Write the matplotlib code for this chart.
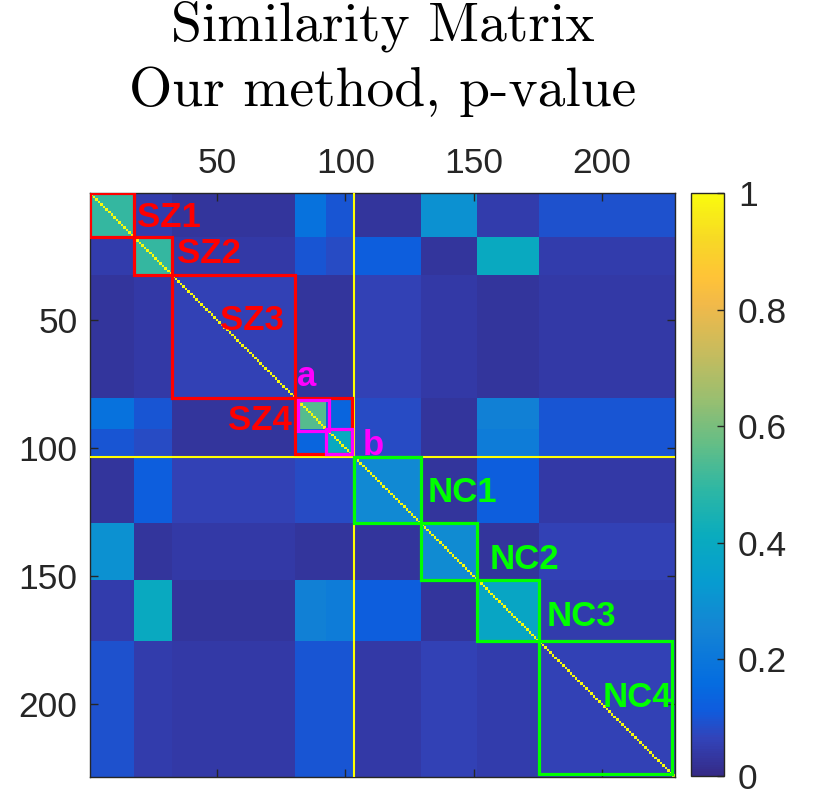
"""
Similarity matrix (p-value) with SZ / NC group boxes, parula colormap.
"""

import matplotlib
matplotlib.use("Agg")
import matplotlib.pyplot as plt
import numpy as np

from matplotlib.colors import LinearSegmentedColormap
from matplotlib.patches import Rectangle


plt.rcParams["font.family"] = ["Liberation Sans", "DejaVu Sans"]
TXT = "#262626"

# MATLAB parula, a subset of the 64-entry table
PARULA = [
    (0 / 63, (0.2081, 0.1663, 0.5292)),
    (4 / 63, (0.1959, 0.2645, 0.7279)),
    (7 / 63, (0.0591, 0.3598, 0.8683)),
    (10 / 63, (0.0165, 0.4266, 0.8786)),
    (16 / 63, (0.0793, 0.5200, 0.8312)),
    (21 / 63, (0.0265, 0.6137, 0.8135)),
    (26 / 63, (0.0384, 0.6743, 0.7436)),
    (31 / 63, (0.1801, 0.7177, 0.6424)),
    (36 / 63, (0.3953, 0.7459, 0.5244)),
    (41 / 63, (0.6099, 0.7473, 0.4337)),
    (46 / 63, (0.7858, 0.7356, 0.3633)),
    (51 / 63, (0.9450, 0.7261, 0.2886)),
    (54 / 63, (0.9990, 0.7653, 0.2164)),
    (58 / 63, (0.9697, 0.8481, 0.1475)),
    (63 / 63, (0.9763, 0.9831, 0.0538)),
]
CMAP = LinearSegmentedColormap.from_list("parula", PARULA, N=256)

# subjects, 1-based
N_SUBJ = 228
N_SZ = 103

# groups (first / last subject)
groups = ["SZ1", "SZ2", "SZ3", "SZ4a", "SZ4b", "NC1", "NC2", "NC3", "NC4"]
group_first = [1, 18, 33, 81, 93, 104, 130, 152, 176]
group_last = [17, 32, 80, 92, 103, 129, 151, 175, 228]

# estimated mean similarity between groups (rows / cols in the order above)
block_sim = [
    # SZ1   SZ2   SZ3   SZ4a  SZ4b  NC1   NC2   NC3   NC4
    [0.50, 0.05, 0.03, 0.18, 0.10, 0.03, 0.30, 0.05, 0.09],  # SZ1
    [0.05, 0.50, 0.04, 0.10, 0.08, 0.12, 0.03, 0.40, 0.05],  # SZ2
    [0.03, 0.04, 0.06, 0.03, 0.03, 0.06, 0.04, 0.03, 0.04],  # SZ3
    [0.18, 0.10, 0.03, 0.55, 0.14, 0.08, 0.03, 0.24, 0.10],  # SZ4a
    [0.10, 0.08, 0.03, 0.14, 0.40, 0.08, 0.03, 0.22, 0.10],  # SZ4b
    [0.03, 0.12, 0.06, 0.08, 0.08, 0.27, 0.03, 0.12, 0.04],  # NC1
    [0.30, 0.03, 0.04, 0.03, 0.03, 0.03, 0.28, 0.03, 0.06],  # NC2
    [0.05, 0.40, 0.03, 0.24, 0.22, 0.12, 0.03, 0.38, 0.05],  # NC3
    [0.09, 0.05, 0.04, 0.10, 0.10, 0.04, 0.06, 0.05, 0.06],  # NC4
]
self_sim = 1.0

# annotated boxes (first / last subject)
box_names = ["SZ1", "SZ2", "SZ3", "SZ4", "a", "b", "NC1", "NC2", "NC3", "NC4"]
box_first = [1, 18, 33, 81, 82, 93, 104, 130, 152, 176]
box_last = [17, 32, 80, 102, 93, 102, 129, 151, 175, 227]
box_colors = ["#ff0000"] * 4 + ["#ff00ff"] * 2 + ["#00ff00"] * 4


# build the matrix from the group blocks
S = np.zeros((N_SUBJ, N_SUBJ))
for i, (r0, r1) in enumerate(zip(group_first, group_last)):
    for j, (c0, c1) in enumerate(zip(group_first, group_last)):
        S[r0 - 1:r1, c0 - 1:c1] = block_sim[i][j]
np.fill_diagonal(S, self_sim)


fig = plt.figure(figsize=(8.25, 7.95), dpi=100)
fig.patch.set_facecolor("white")

ax = fig.add_axes([90 / 825, 1 - 777 / 795, 585 / 825, 584 / 795])
im = ax.imshow(S, cmap=CMAP, vmin=0, vmax=1, aspect="auto",
               interpolation="nearest",
               extent=(0.5, N_SUBJ + 0.5, N_SUBJ + 0.5, 0.5))

# SZ / NC split
ax.axvline(N_SZ + 0.5, color="#ffff00", lw=1.5, zorder=3)
ax.axhline(N_SZ + 0.5, color="#ffff00", lw=1.5, zorder=3)

for f, l, c in zip(box_first, box_last, box_colors):
    ax.add_patch(Rectangle((f - 0.5, f - 0.5), l - f + 1, l - f + 1,
                           fill=False, edgecolor=c, lw=2.3, zorder=4))

# group labels
label_xy = {
    "SZ1": (18.8, 13.9), "SZ2": (34.3, 27.9), "SZ3": (51.2, 53.9),
    "a": (81.2, 76.0), "SZ4": (54.3, 92.9), "b": (106.9, 102.6),
    "NC1": (132.2, 121.3), "NC2": (156.4, 147.4), "NC3": (178.6, 169.6),
    "NC4": (200.4, 201.2),
}
for name, c in zip(box_names, box_colors):
    x, y = label_xy[name]
    ax.text(x, y, name, color=c, fontsize=25, fontweight="bold",
            ha="left", va="baseline", zorder=5, clip_on=False)

ax.set_xlim(0.5, N_SUBJ + 0.5)
ax.set_ylim(N_SUBJ + 0.5, 0.5)
ticks = [50, 100, 150, 200]
ax.set_xticks(ticks)
ax.set_yticks(ticks)
ax.tick_params(direction="in", length=6, width=1, color=TXT, labelcolor=TXT,
               labelsize=25.5, top=True, bottom=True, left=True, right=True,
               labeltop=True, labelbottom=False)
ax.tick_params(axis="x", pad=9.5)
ax.tick_params(axis="y", pad=9)
for s in ax.spines.values():
    s.set_color(TXT)
    s.set_linewidth(1)

# colorbar
cax = fig.add_axes([691 / 825, 1 - 776 / 795, 33 / 825, 583 / 795])
cb = fig.colorbar(im, cax=cax, ticks=[0, 0.2, 0.4, 0.6, 0.8, 1])
cb.ax.set_yticklabels(["0", "0.2", "0.4", "0.6", "0.8", "1"])
cb.ax.tick_params(direction="in", length=5, width=1, color=TXT,
                  labelcolor=TXT, labelsize=25.5, pad=10)
cb.outline.set_edgecolor(TXT)
cb.outline.set_linewidth(1)

# title
fig.text(383 / 825, 1 - 1 / 795, "Similarity Matrix\nOur method, p-value",
         ha="center", va="top", fontfamily="cmr10", fontsize=40,
         linespacing=1.35, color="black")

plt.savefig("out.png", dpi=100)
